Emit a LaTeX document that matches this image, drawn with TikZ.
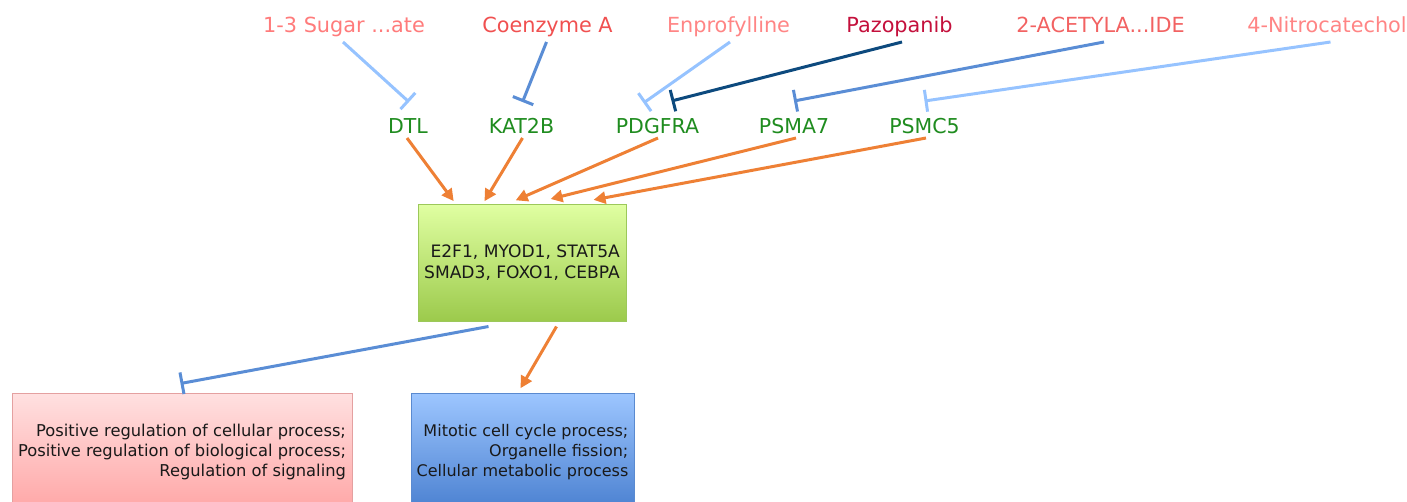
\documentclass[tikz,border=0pt]{standalone}
\usepackage{fontspec}
\setmainfont{DejaVu Sans}
\usetikzlibrary{arrows.meta,calc}
\definecolor{drugA}{HTML}{FF7B7B}
\definecolor{drugB}{HTML}{F05050}
\definecolor{drugC}{HTML}{FF8585}
\definecolor{drugD}{HTML}{C4103C}
\definecolor{drugE}{HTML}{F26262}
\definecolor{tgreen}{HTML}{1F8C1F}
\definecolor{blueL}{HTML}{96C3FF}
\definecolor{blueM}{HTML}{5A8DD5}
\definecolor{blueD}{HTML}{0D4A7E}
\definecolor{orng}{HTML}{EE8035}
\definecolor{gTop}{HTML}{E0FFA2}
\definecolor{gBot}{HTML}{9CCA4C}
\definecolor{gBrd}{HTML}{9CC85A}
\definecolor{rTop}{HTML}{FFE0E0}
\definecolor{rBot}{HTML}{FFA6A6}
\definecolor{rBrd}{HTML}{E4A0A0}
\definecolor{bTop}{HTML}{9DC6FF}
\definecolor{bBot}{HTML}{4A80D0}
\definecolor{bBrd}{HTML}{5A8AD0}
\tikzset{
  drug/.style={font=\fontsize{20.8}{24}\selectfont, anchor=base, inner sep=0pt},
  target/.style={font=\fontsize{20.5}{24}\selectfont, text=tgreen, anchor=base, inner sep=0pt},
  inh/.style={line width=3pt, -{Bar[width=22pt,line width=3pt]}},
  act/.style={line width=3pt, orng, -{Triangle[length=12pt,width=12pt]}, shorten >=-2pt},
  gbox/.style={rectangle, draw=gBrd, line width=1pt, top color=gTop, bottom color=gBot,
    inner sep=0pt, align=right, font=\fontsize{17.1}{21}\selectfont, text=black!90},
  pbox/.style={rectangle, line width=1pt, inner sep=0pt, align=right,
    font=\fontsize{16.3}{20}\selectfont, text=black!90}
}
\begin{document}
\begin{tikzpicture}[x=1pt,y=-1pt]
\useasboundingbox (0,0) rectangle (1407,501);
% drugs
\node[drug, text=drugA] (d1) at (344,32) {1-3 Sugar ...ate};
\node[drug, text=drugB] (d2) at (547.5,32) {Coenzyme A};
\node[drug, text=drugC] (d3) at (728.5,32) {Enprofylline};
\node[drug, text=drugD] (d4) at (899.5,32) {Pazopanib};
\node[drug, text=drugE] (d5) at (1100.5,32) {2-ACETYLA...IDE};
\node[drug, text=drugC] (d6) at (1327,32) {4-Nitrocatechol};
% targets
\node[target] (t1) at (408,133) {DTL};
\node[target] (t2) at (521.5,133) {KAT2B};
\node[target] (t3) at (657.5,133) {PDGFRA};
\node[target] (t4) at (794,133) {PSMA7};
\node[target] (t5) at (924.5,133) {PSMC5};
% boxes
\node[gbox, minimum width=208pt, minimum height=117pt] (tf) at (522,262.5)
  {E2F1, MYOD1, STAT5A\\SMAD3, FOXO1, CEBPA};
\node[pbox, draw=rBrd, top color=rTop, bottom color=rBot, minimum width=340pt, minimum height=118pt] (gp) at (182,452)
  {Positive regulation of cellular process;\\Positive regulation of biological process;\\Regulation of signaling};
\node[pbox, draw=bBrd, top color=bTop, bottom color=bBot, minimum width=223pt, minimum height=118pt,
  font=\fontsize{16}{20}\selectfont] (gb) at (522.5,452)
  {Mitotic cell cycle process;\\Organelle fission;\\Cellular metabolic process};
% inhibitions drug -> target
\draw[inh, blueL] ($(d1.base)+(-1,10)$) -- ($(t1.base)+(1,-31)$);
\draw[inh, blueM] ($(d2.base)+(-1,10)$) -- ($(t2.base)+(1,-31)$);
\draw[inh, blueL] ($(d3.base)+(1.5,10)$) -- ($(t3.base)+(-14,-30)$);
\draw[inh, blueD] ($(d4.base)+(2.5,10)$) -- ($(t3.base)+(14,-32)$);
\draw[inh, blueM] ($(d5.base)+(3.5,10)$) -- ($(t4.base)+(0,-32)$);
\draw[inh, blueL] ($(d6.base)+(3.5,10)$) -- ($(t5.base)+(0,-32)$);
% activations target -> TF box
\draw[act] ($(t1.base)+(-1,5)$) -- ($(tf.north west)+(35,-4)$);
\draw[act] ($(t2.base)+(1,5)$) -- ($(tf.north west)+(68,-4)$);
\draw[act] ($(t3.base)+(0.5,5)$) -- ($(tf.north west)+(100,-4)$);
\draw[act] ($(t4.base)+(2,5)$) -- ($(tf.north west)+(135,-5)$);
\draw[act] ($(t5.base)+(1.5,5)$) -- ($(tf.north west)+(178,-4)$);
% from TF box
\draw[inh, blueM] ($(tf.south west)+(71,5)$) -- ($(gp.north west)+(169,-9)$);
\draw[act] ($(tf.south west)+(139,5)$) -- ($(gb.north west)+(111,-6)$);
\end{tikzpicture}
\end{document}
